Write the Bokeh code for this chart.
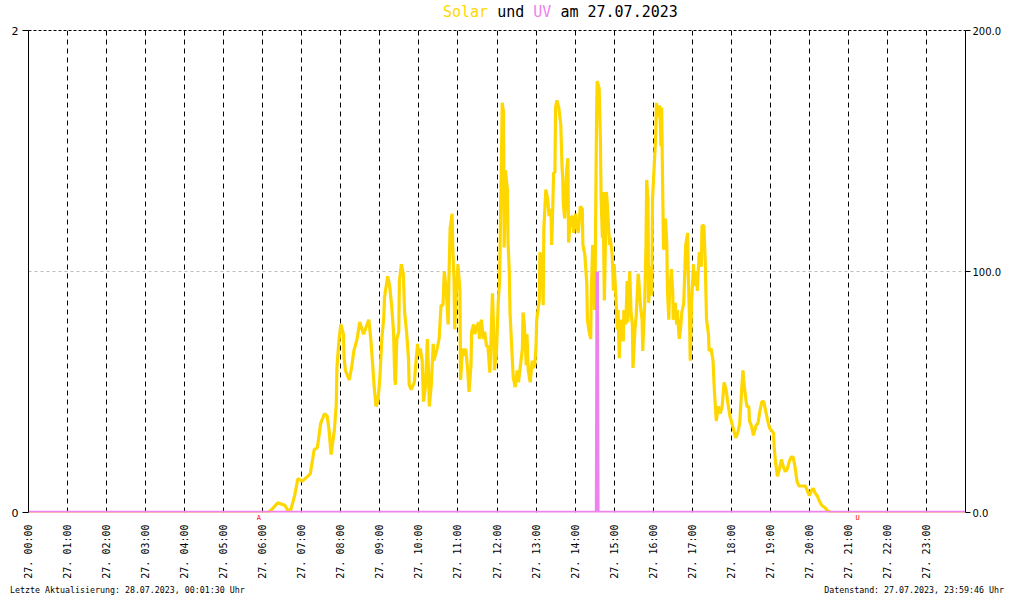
import math
from bokeh.plotting import figure
from bokeh.layouts import column
from bokeh.models import Range1d, LinearAxis, FixedTicker, ColumnDataSource, Div
from bokeh.embed import file_html
from bokeh.resources import INLINE

# ---------------- data ----------------
hour_ticks = list(range(24))
hour_labels = [f"27. {h:02d}:00" for h in hour_ticks]

uv_ticks = [0, 2]
uv_tick_labels = ["0", "2"]
solar_ticks = [0, 100, 200]
solar_tick_labels = ["0.0", "100.0", "200.0"]

# solar radiation: minute of day, value (right axis)
solar_min = [
    0, 368, 373, 383, 394, 398, 403, 409, 414, 421, 429, 433, 439, 444, 449, 455, 459, 462, 465, 470,
    473, 474, 477, 480, 484, 485, 487, 493, 497, 500, 505, 509, 515, 523, 526, 529, 531, 534, 537, 540,
    543, 546, 547, 552, 555, 558, 561, 563, 564, 566, 569, 570, 573, 576, 578, 581, 584, 585, 588, 593,
    595, 598, 599, 602, 605, 607, 610, 613, 614, 616, 619, 622, 623, 628, 631, 634, 637, 639, 642, 645,
    646, 648, 651, 652, 654, 655, 658, 660, 663, 664, 667, 669, 672, 675, 677, 680, 681, 684, 686, 689,
    692, 693, 696, 699, 701, 704, 706, 709, 710, 713, 715, 716, 719, 722, 724, 725, 727, 728, 730, 731,
    733, 736, 737, 739, 740, 744, 745, 748, 751, 753, 756, 759, 760, 762, 765, 766, 768, 771, 774, 775,
    778, 780, 781, 785, 786, 789, 791, 792, 795, 798, 800, 803, 804, 806, 807, 809, 810, 812, 815, 818,
    820, 821, 822, 824, 827, 829, 830, 833, 836, 838, 841, 842, 845, 848, 851, 852, 855, 856, 858, 859,
    861, 864, 865, 867, 868, 870, 871, 873, 874, 877, 879, 880, 882, 883, 885, 888, 889, 893, 894, 897,
    899, 900, 903, 905, 906, 908, 909, 911, 914, 915, 918, 920, 921, 924, 926, 928, 929, 932, 934, 937,
    938, 941, 943, 944, 947, 949, 950, 952, 953, 955, 956, 958, 959, 962, 964, 965, 967, 970, 972, 973,
    975, 976, 979, 981, 982, 984, 985, 988, 990, 991, 994, 996, 997, 1000, 1002, 1004, 1007, 1008, 1010, 1013,
    1014, 1016, 1017, 1019, 1022, 1023, 1025, 1028, 1029, 1031, 1034, 1035, 1038, 1040, 1042, 1045, 1046, 1049, 1052, 1054,
    1057, 1060, 1063, 1066, 1069, 1072, 1075, 1078, 1081, 1084, 1087, 1090, 1093, 1096, 1098, 1099, 1102, 1104, 1107, 1108,
    1111, 1114, 1118, 1121, 1124, 1127, 1130, 1133, 1136, 1139, 1142, 1145, 1146, 1148, 1151, 1154, 1157, 1160, 1163, 1166,
    1169, 1172, 1175, 1178, 1181, 1184, 1189, 1194, 1197, 1200, 1203, 1206, 1209, 1212, 1215, 1219, 1224, 1227, 1233, 1440,
]
solar_val = [
    0, 0, 1, 4, 3, 1, 1, 7, 14, 13, 15, 16, 26, 27, 37, 41, 40, 34, 24, 34,
    45, 60, 71, 78, 74, 64, 59, 55, 61, 67, 72, 79, 74, 80, 72, 61, 53, 44, 46, 56,
    72, 81, 89, 98, 94, 86, 75, 55, 53, 72, 75, 96, 103, 99, 83, 75, 64, 53, 51, 54,
    61, 70, 65, 68, 63, 46, 52, 72, 65, 44, 53, 70, 63, 68, 72, 86, 86, 100, 92, 78,
    96, 118, 124, 110, 96, 76, 94, 103, 92, 55, 68, 65, 68, 59, 50, 61, 75, 78, 74, 77,
    79, 72, 80, 72, 75, 69, 69, 58, 65, 91, 75, 59, 65, 88, 96, 115, 149, 170, 166, 110,
    142, 134, 112, 99, 83, 61, 56, 52, 59, 54, 61, 68, 83, 78, 61, 74, 59, 54, 63, 60,
    61, 69, 80, 88, 108, 104, 86, 118, 134, 130, 123, 126, 111, 130, 141, 141, 168, 171, 168, 161,
    143, 139, 128, 122, 142, 147, 112, 122, 123, 116, 124, 120, 116, 127, 126, 111, 107, 103, 95, 80,
    76, 72, 92, 111, 103, 84, 103, 164, 179, 176, 153, 130, 114, 133, 88, 133, 130, 111, 114, 107,
    92, 103, 88, 76, 84, 64, 74, 80, 71, 84, 78, 96, 79, 100, 83, 78, 60, 76, 82, 99,
    96, 84, 80, 67, 87, 111, 138, 130, 87, 95, 102, 90, 130, 146, 157, 170, 164, 169, 152, 168,
    127, 109, 122, 111, 92, 80, 90, 101, 92, 80, 87, 78, 84, 72, 76, 83, 87, 95, 111, 116,
    98, 79, 63, 87, 103, 94, 100, 92, 99, 108, 102, 119, 119, 104, 80, 74, 67, 68, 63, 51,
    38, 44, 41, 44, 54, 51, 45, 40, 37, 34, 31, 33, 37, 51, 59, 55, 48, 44, 44, 38,
    36, 32, 36, 37, 42, 46, 46, 42, 38, 35, 34, 33, 27, 21, 15, 18, 22, 19, 17, 18,
    21, 23, 23, 19, 13, 11, 11, 11, 9, 7, 9, 10, 8, 7, 5, 3, 2, 1, 0, 0,
]

# UV index: minute of day, value (left axis)
uv_min = [0, 873, 874, 875, 1440]
uv_val = [0, 0, 1.0, 0, 0]

# sunrise (A) / sunset (U) markers, minute of day
sun_marks = ["A", "U"]
sun_min = [354, 1274]

title_parts = ["Solar", "und", "UV", "am 27.07.2023"]
title_colors = ["#FFD700", "#000000", "#EE82EE", "#000000"]
footer_left = "Letzte Aktualisierung: 28.07.2023, 00:01:30 Uhr"
footer_right = "Datenstand: 27.07.2023, 23:59:46 Uhr"

# ---------------- styles ----------------
SOLAR_COLOR = "#FFD700"
UV_COLOR = "#EE82EE"
MONO = "DejaVu Sans Mono"
SANS = "DejaVu Sans"
W = 1004
TITLE_H = 22
FOOT_H = 9
FIG_H = 590 - TITLE_H - FOOT_H

# ---------------- title ----------------
spans = " ".join(f'<span style="color:{c}">{t}</span>' for t, c in zip(title_parts, title_colors))
title_div = Div(
    text=(f'<div style="font-family:\'{MONO}\';font-size:15px;line-height:22px;'
          f'padding:1px 0 0 443px;white-space:pre;color:#000;">{spans}</div>'),
    width=W, height=TITLE_H, margin=0)

# ---------------- figure ----------------
p = figure(width=W, height=FIG_H, output_backend="svg", toolbar_location=None,
           x_range=Range1d(0, 24), y_range=Range1d(0, 2),
           min_border_left=28, min_border_right=36, min_border_top=8, min_border_bottom=60)
p.outline_line_color = None
p.background_fill_color = "white"
p.border_fill_color = "white"
p.extra_y_ranges = {"solar": Range1d(0, 200)}

# main x axis (hour labels, vertical)
xa = p.xaxis[0]
xa.ticker = FixedTicker(ticks=hour_ticks)
xa.major_label_overrides = {h: lab for h, lab in zip(hour_ticks, hour_labels)}
xa.major_label_orientation = math.pi / 2
xa.axis_line_color = None
xa.major_tick_line_color = None
xa.minor_tick_line_color = None
xa.major_tick_out = 0
xa.major_tick_in = 0
xa.major_label_standoff = 0
xa.major_label_text_font = MONO
xa.major_label_text_font_size = "10px"
xa.major_label_text_color = "black"

# sunrise / sunset axis just under the frame
sun_ticks = [m / 60 for m in sun_min]
sa = LinearAxis(ticker=FixedTicker(ticks=sun_ticks),
                major_label_overrides={t: mk for t, mk in zip(sun_ticks, sun_marks)})
sa.axis_line_color = None
sa.major_tick_line_color = None
sa.minor_tick_line_color = None
sa.major_tick_out = 0
sa.major_tick_in = 0
sa.major_label_standoff = 1
sa.major_label_text_font = MONO
sa.major_label_text_font_size = "7px"
sa.major_label_text_color = "#FF0000"
p.below = [sa] + list(p.below)

# top border: dashed line only
ta = LinearAxis(ticker=FixedTicker(ticks=[]))
ta.axis_line_color = "black"
ta.axis_line_dash = "3 2"
ta.major_tick_line_color = None
ta.minor_tick_line_color = None
ta.major_label_text_font_size = "0px"
ta.major_tick_out = 0
ta.major_tick_in = 0
ta.major_label_standoff = 0
p.add_layout(ta, "above")

# left axis (UV)
ya = p.yaxis[0]
ya.ticker = FixedTicker(ticks=uv_ticks)
ya.major_label_overrides = {t: l for t, l in zip(uv_ticks, uv_tick_labels)}
ya.major_tick_out = 6
ya.major_tick_in = 0
ya.minor_tick_line_color = None
ya.major_label_standoff = 4
ya.major_label_text_font = SANS
ya.major_label_text_font_size = "11px"
ya.major_label_text_color = "black"
ya.axis_line_color = "black"
ya.major_tick_line_color = "black"

# right axis (solar)
ra = LinearAxis(y_range_name="solar", ticker=FixedTicker(ticks=solar_ticks),
                major_label_overrides={t: l for t, l in zip(solar_ticks, solar_tick_labels)})
ra.major_tick_out = 5
ra.major_tick_in = 0
ra.minor_tick_line_color = None
ra.major_label_standoff = 2
ra.major_label_text_font = SANS
ra.major_label_text_font_size = "10px"
ra.major_label_text_color = "black"
ra.axis_line_color = "black"
ra.major_tick_line_color = "black"
p.add_layout(ra, "right")

# grids
p.xgrid.ticker = FixedTicker(ticks=hour_ticks[1:])
p.xgrid.grid_line_color = "black"
p.xgrid.grid_line_dash = "5 4"
p.xgrid.grid_line_width = 1
p.ygrid.ticker = FixedTicker(ticks=[1])
p.ygrid.grid_line_color = "#bdbdbd"
p.ygrid.grid_line_dash = "3 3"

# data lines
src_s = ColumnDataSource(dict(h=[m / 60 for m in solar_min], v=solar_val))
p.line("h", "v", source=src_s, y_range_name="solar", line_color=SOLAR_COLOR, line_width=3.2)
src_u = ColumnDataSource(dict(h=[m / 60 for m in uv_min], v=uv_val))
p.line("h", "v", source=src_u, line_color=UV_COLOR, line_width=3.5)

# ---------------- footer ----------------
footer_div = Div(
    text=(f'<div style="display:flex;justify-content:space-between;width:{W}px;box-sizing:border-box;'
          f'font-family:\'{MONO}\';font-size:8.3px;line-height:9px;padding:0 0 0 10px;'
          f'color:#000;white-space:pre;">'
          f'<span>{footer_left}</span><span>{footer_right}</span></div>'),
    width=W, height=FOOT_H, margin=0)

layout = column(title_div, p, footer_div, spacing=0)
open("out.html", "w").write(file_html(layout, INLINE))
